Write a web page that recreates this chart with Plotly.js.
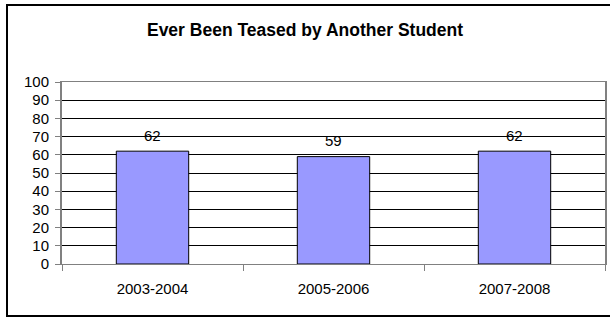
<!DOCTYPE html>
<html>
<head>
<meta charset="utf-8">
<script src="https://cdn.plot.ly/plotly-3.0.1.min.js"></script>
<style>
html,body{margin:0;padding:0;background:#fff;}
#chart{width:610px;height:318px;}
</style>
</head>
<body>
<div id="chart"></div>
<script>
const categories = ["2003-2004", "2005-2006", "2007-2008"];
const values = [62, 59, 62];
const yTicks = [0, 10, 20, 30, 40, 50, 60, 70, 80, 90, 100];
const chartTitle = "Ever Been Teased by Another Student";

const font = "Liberation Sans, Arial, sans-serif";

const trace = {
  type: "bar",
  x: categories,
  y: values,
  marker: {color: "#9999FF", line: {color: "#000000", width: 1}},
  hoverinfo: "none"
};

const annotations = categories.map((c, i) => ({
  x: c, y: values[i], xref: "x", yref: "y",
  text: String(values[i]), showarrow: false,
  yanchor: "middle", yshift: 16,
  font: {family: font, size: 15, color: "#000"}
}));

const layout = {
  width: 610, height: 318,
  margin: {l: 62, r: 5, t: 82, b: 54},
  paper_bgcolor: "#ffffff",
  plot_bgcolor: "#ffffff",
  showlegend: false,
  bargap: 0.6,
  title: {
    text: "<b>" + chartTitle + "</b>",
    font: {family: font, size: 17.5, color: "#000"},
    x: 0.5, xanchor: "center",
    y: 1 - 30/318, yanchor: "middle", yref: "container"
  },
  xaxis: {
    type: "category",
    tickson: "boundaries",
    ticks: "outside", ticklen: 6, tickcolor: "#808080", tickwidth: 1,
    showline: true, linecolor: "#808080", linewidth: 1, mirror: true,
    showgrid: false, zeroline: false,
    tickfont: {family: font, size: 15, color: "#000"},
    ticklabelstandoff: 11,
    fixedrange: true
  },
  yaxis: {
    range: [0, 100],
    tickvals: yTicks,
    ticktext: yTicks.map(String),
    ticks: "outside", ticklen: 5, tickcolor: "#808080", tickwidth: 1,
    showline: true, linecolor: "#808080", linewidth: 2, mirror: true,
    showgrid: true, gridcolor: "#000000", gridwidth: 1,
    zeroline: false,
    tickfont: {family: font, size: 15, color: "#000"},
    ticklabelstandoff: 3,
    fixedrange: true
  },
  annotations: annotations,
  shapes: [{
    type: "rect", xref: "paper", yref: "paper",
    x0: (7 - 62) / 543, x1: (613 - 62) / 543,
    y0: (264 - 316) / 182, y1: (264 - 5) / 182,
    line: {color: "#000000", width: 2},
    fillcolor: "rgba(0,0,0,0)",
    layer: "below"
  }]
};

Plotly.newPlot("chart", [trace], layout, {displayModeBar: false, staticPlot: true});
</script>
</body>
</html>
